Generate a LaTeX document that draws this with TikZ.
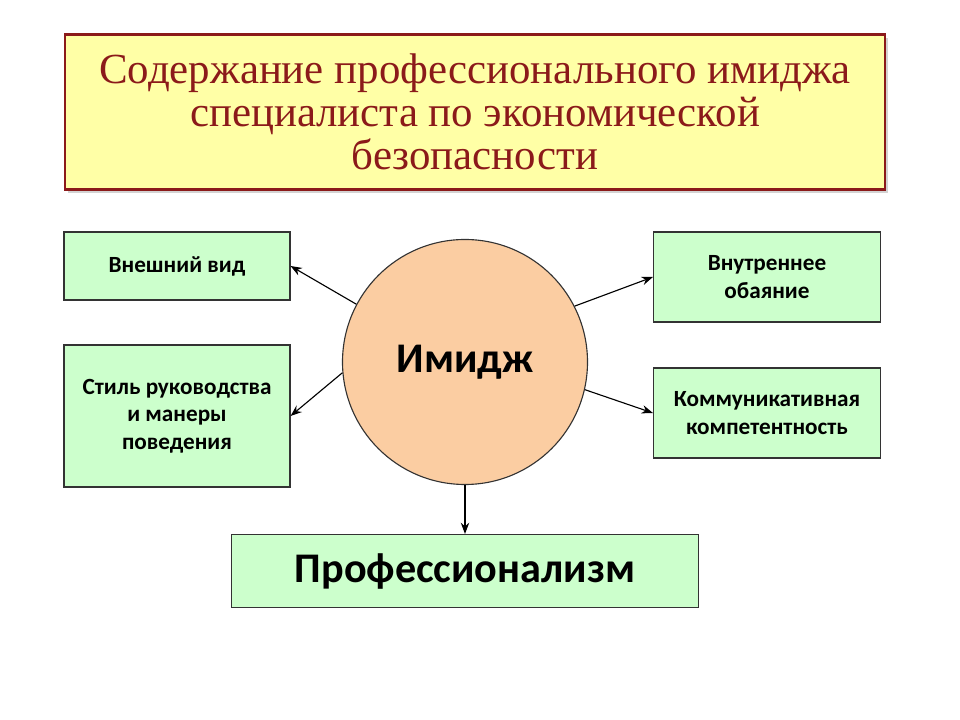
\documentclass[tikz,border=0pt]{standalone}
\usepackage{fontspec}
\setmainfont{Carlito}
\newfontfamily\titlefont{Liberation Serif}
\usetikzlibrary{shadows,arrows.meta}
\definecolor{titlered}{HTML}{8B1A1A}
\definecolor{titlefill}{HTML}{FFFFA6}
\definecolor{boxfill}{HTML}{CCFFCC}
\definecolor{circfill}{HTML}{FBCDA2}
\tikzset{
  greenbox/.style={draw=black!80, line width=0.8pt, fill=boxfill, align=center, font=\bfseries\fontsize{16.5}{19.5}\selectfont, inner sep=2pt},
  link/.style={-{Stealth[length=8pt,width=6pt]}, line width=0.8pt}
}
\begin{document}
\begin{tikzpicture}[x=0.025cm,y=-0.025cm]
\useasboundingbox (0,0) rectangle (960,720);
\node[draw=titlered, line width=1.5pt, fill=titlefill, drop shadow={opacity=0.35},
  minimum width=820*0.025cm, minimum height=155*0.025cm, align=center,
  text=titlered, font=\titlefont\fontsize{30.5}{30.5}\selectfont] (title) at (475,112)
  {Содержание профессионального имиджа\\специалиста по экономической\\безопасности};
\node[circle, draw=black!80, line width=0.8pt, fill=circfill, minimum size=245*0.025cm,
  font=\bfseries\fontsize{30}{30}\selectfont] (img) at (465,362) {Имидж};
\node[greenbox, minimum width=226*0.025cm, minimum height=68*0.025cm] (vid) at (177,266) {Внешний вид};
\node[greenbox, minimum width=226*0.025cm, minimum height=142*0.025cm] (stil) at (177,416) {Стиль руководства\\и манеры\\поведения};
\node[greenbox, minimum width=227*0.025cm, minimum height=90*0.025cm] (obay) at (767,277) {Внутреннее\\обаяние};
\node[greenbox, minimum width=227*0.025cm, minimum height=90*0.025cm] (komm) at (767,413) {Коммуникативная\\компетентность};
\node[greenbox, minimum width=467*0.025cm, minimum height=73*0.025cm,
  font=\bfseries\fontsize{30}{30}\selectfont] (prof) at (465,571) {Профессионализм};
\draw[link] (img.152) -- (vid.east);
\draw[link] (img.185) -- (stil.east);
\draw[link] (img.27) -- (obay.west);
\draw[link] (img.-13) -- (komm.west);
\draw[link] (img.south) -- (prof.north);
\end{tikzpicture}
\end{document}
